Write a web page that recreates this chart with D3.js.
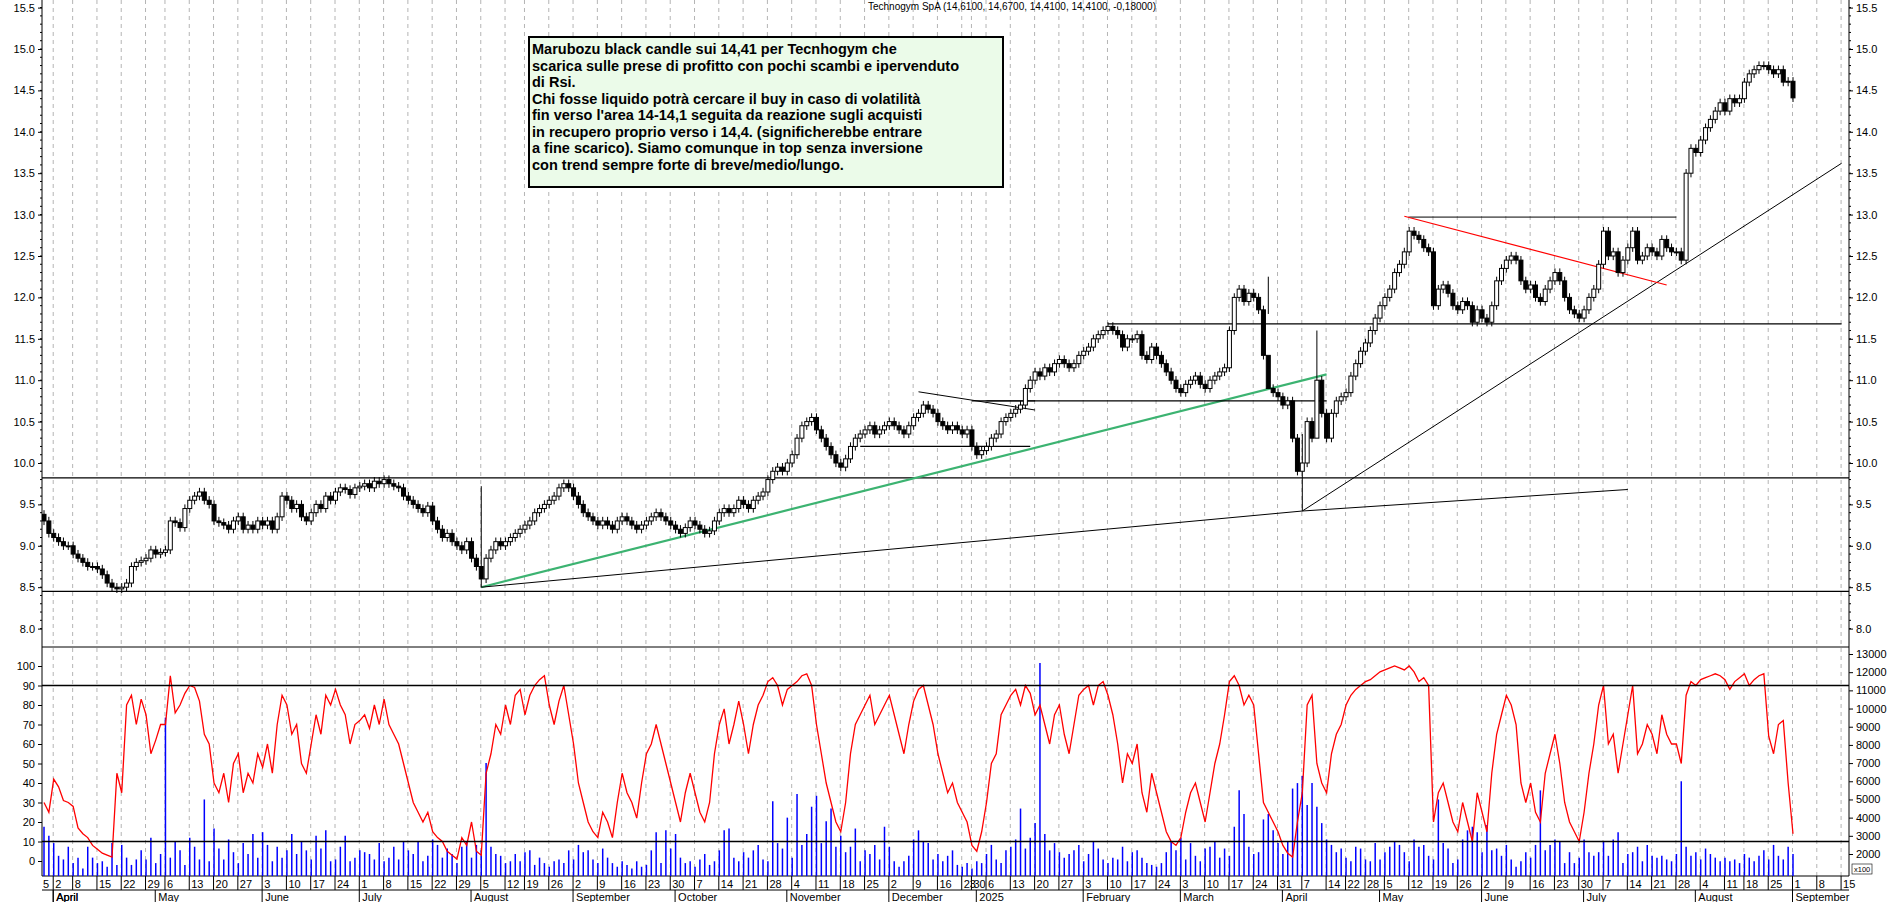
<!DOCTYPE html>
<html><head><meta charset="utf-8">
<script src="https://cdn.jsdelivr.net/npm/d3@7"></script>
<style>body{margin:0;background:#fff}svg{display:block;font-family:"Liberation Sans",Arial,sans-serif}</style>
</head><body><svg id="c" width="1890" height="902"></svg>
<script>
const startDate = "2024-03-27", endDate = "2025-09-01";
const holidays = ["2024-03-29","2024-04-01","2024-05-01","2024-08-15","2024-12-24","2024-12-25","2024-12-26","2024-12-31","2025-01-01","2025-04-18","2025-04-21","2025-05-01","2025-08-15"];
// closes per week
const closes = [
[9.3,9.15],[9.1,9.05,9.0,9.0],[8.9,8.85,8.8,8.75,8.75],[8.72,8.65,8.55,8.5,8.48],[8.5,8.55,8.75,8.8,8.82],[8.85,8.95,8.9,8.92],
[8.95,9.3,9.28,9.22,9.45],[9.55,9.6,9.65,9.55,9.5],[9.3,9.28,9.25,9.2,9.3],[9.35,9.2,9.25,9.2,9.3],[9.25,9.3,9.2,9.35,9.6],
[9.55,9.45,9.5,9.35,9.3],[9.4,9.5,9.45,9.6,9.55],[9.65,9.7,9.68,9.62,9.7],[9.72,9.75,9.7,9.78,9.75],[9.8,9.75,9.72,9.7,9.6],
[9.55,9.5,9.45,9.4,9.48],[9.3,9.2,9.1,9.15,9.05],[9.0,8.95,9.05,8.85,8.75],[8.6,8.85,8.95,9.05,9.0],[9.05,9.1,9.15,9.2],
[9.25,9.3,9.4,9.45,9.5],[9.55,9.6,9.7,9.75,9.7],[9.6,9.5,9.4,9.35,9.3],[9.25,9.3,9.25,9.2,9.3],[9.35,9.3,9.25,9.2,9.25],
[9.3,9.35,9.4,9.35,9.3],[9.25,9.2,9.15,9.22,9.3],[9.25,9.2,9.15,9.18,9.3],[9.4,9.45,9.4,9.45,9.55],[9.5,9.45,9.55,9.6,9.65],
[9.8,9.9,9.95,9.9,10.0],[10.1,10.3,10.45,10.5,10.55],[10.4,10.3,10.2,10.1,10.0],[9.95,10.05,10.2,10.3,10.35],[10.4,10.45,10.35,10.4,10.45],
[10.5,10.45,10.4,10.35,10.45],[10.55,10.6,10.7,10.65,10.6],[10.5,10.45,10.4,10.45,10.4],[10.35,10.4],[10.2,10.1,10.15],
[10.2,10.3,10.35,10.5,10.55],[10.6,10.65,10.7,10.9,11.0],[11.1,11.05,11.15,11.1,11.2],[11.25,11.2,11.15,11.2,11.3],
[11.35,11.4,11.5,11.55,11.6],[11.65,11.6,11.55,11.4,11.5],[11.5,11.55,11.3,11.25,11.4],[11.3,11.2,11.1,11.0,10.9],
[10.85,10.95,11.0,11.05,10.95],[10.9,11.0,11.05,11.1,11.15],[11.6,12.0,12.1,11.95,12.05],[12.0,11.85,11.3,10.9,10.85],
[10.8,10.7,10.75,10.3,9.9],[10.0,10.5,10.3,11.0,10.6],[10.3,10.6,10.75,10.8],[10.85,11.05,11.2,11.35],[11.45,11.6,11.75,11.9],
[12.0,12.1,12.3,12.4,12.55],[12.8,12.75,12.7,12.6,12.55],[11.9,12.1,12.15,12.05,11.9],[11.85,11.95,11.9,11.7,11.85],
[11.75,11.7,11.9,12.2,12.35],[12.45,12.5,12.45,12.2,12.1],[12.15,12.0,11.95,12.1,12.2],[12.3,12.2,12.0,11.85,11.8],
[11.75,11.85,12.0,12.1,12.4],[12.8,12.5,12.55,12.3,12.45],[12.6,12.8,12.45,12.5,12.6],[12.55,12.5,12.7,12.6,12.55],
[12.55,12.45,13.5,13.8,13.75],[13.9,14.05,14.15,14.25,14.35],[14.25,14.4,14.35,14.4],[14.6,14.7,14.75,14.8,14.8],
[14.75,14.7,14.75,14.6,14.61],[14.41]];
const rsi = [
[30,25],[42,38,31,30],[28,17,14,12,8],[6,4,3,2,45],[35,80,85,70,83],[75,55,62,70],
[70,95,76,80,86],[90,89,82,65,60],[40,35,45,30,50],[55,35,45,40,55],[48,60,45,70,85],
[80,65,70,50,45],[60,75,65,85,80],[88,80,75,60,70],[72,75,68,80,70],[83,70,65,60,50],
[40,30,25,20,25],[15,12,10,5,3],[1,12,8,20,5],[3,45,55,70,65],[80,70,85,88],
[75,85,90,93,95],[80,70,82,90,75],[60,40,30,20,15],[12,25,20,12,30],[45,35,30,22,40],
[55,60,70,60,50],[40,30,20,35,45],[35,25,20,30,55],[70,78,60,70,82],[70,55,70,80,85],
[92,94,90,80,88],[90,92,95,96,90],[70,55,40,30,20],[15,30,55,70,75],[80,85,70,75,80],
[85,75,65,55,70],[82,88,90,80,70],[55,45,35,40,30],[25,20],[8,5,15],
[30,50,55,75,80],[85,88,80,90,86],[75,80,70,60,75],[80,65,55,70,85],
[88,90,80,90,92],[85,75,60,40,55],[50,60,35,25,45],[35,25,15,10,8],
[12,25,35,40,30],[20,35,50,60,75],[92,95,90,80,85],[80,55,30,25,20],
[15,8,4,2,20],[35,80,85,50,40],[35,55,65,70],[80,85,88,90],[92,93,95,97],
[98,99,100,99,98],[100,97,92,94,90],[20,35,40,30,20],[15,30,20,10,35],
[25,15,45,65,75],[85,80,70,40,30],[40,25,20,45,55],[65,50,30,20,15],
[10,25,45,60,80],[90,60,65,45,60],[75,90,55,60,70],[65,55,75,65,60],
[60,50,85,92,90],[93,94,95,96,95],[93,88,92,94],[96,90,93,95,96],
[64,55,70,72,40],[14]];
const volume = [
[3500,3000],[2600,1900,1700,2400],[1500,1800,1200,2400,1800],[1500,1600,1300,2600,1400],[2500,1800,1400,1700,2200],[1700,2900,1500,2000],
[9500,1800,2700,2200,1400,2900],[2400,1700,5000,1600,3400],[2300,1700,2800,2100,1500],[2600,2000,3100,1800,3200],[2500,1600,2400,1800,2200],
[3100,2000,2700,2200,1700],[3000,2300,3300,1600,1700],[2400,3000,1600,1800,2200],[2100,2000,1700,2600,1600],[1800,2400,1700,2700,2200],
[2000,2700,1600,1900,2800],[2500,1800,2300,2000,1500],[2400,2700,1800,2500,2200],[7000,2400,2000,1900,1500],[1600,2000,1600,2100],
[2200,1400,1800,1500,1300],[1600,1700,1500,2200,1700],[2500,2100,2200,1700,1500],[2300,1800,1500,1300,1600],[1400,1200,1600,1300,1400],
[2200,3200,1500,3300,2300],[3100,1800,1500,1600,1300],[1700,2000,1400,1600,2200],[3300,3400,1800,1600,2100],[1800,2200,2500,1700,1600],
[4900,2600,2300,4000,1800],[5300,2500,3100,4600,5200],[2600,3800,4500,2400,3000],[2100,2400,3400,1600,2200],[2000,2500,1700,3500,2400],
[1600,1300,1600,1900,2800],[3300,2700,2600,1700,2000],[1600,1900,2200,1400,1300],[1500,1200],[1600,1500,2000],
[2500,1700,1500,2200,2400],[2800,4500,2300,2900,3700],[12500,3100,2200,2600,2100],[1800,2000,2200,2500,1600],
[2000,2700,2300,1700,1500],[1800,1700,2400,1600,2100],[2200,1800,1500,1400,1300],[1500,2100,2700,2200,2900],
[1700,2600,1900,1600,2300],[2400,2700,1800,2300,1900],[3500,5500,4200,2400,2000],[2100,3900,4200,3300,2600],
[2000,2700,5600,5900,6300],[4700,5900,4600,3700,2800],[2500,2100,2300,1800],[1600,2400,2300,1700],[1600,2600,1700,2100],
[2400,2700,2500,2100,1600],[2800,2400,2500,1900,1700],[5000,2600,2300,1500,1700],[2800,3300,3500,3200,2100],
[3600,2200,2300,1900,2500],[1700,1300,1600,2100,1800],[2500,5500,2200,2500,2800],[2700,1500,2100,1500,1800],
[2800,2100,1900,2100,2700],[1900,2800,3200,1500,2000],[2100,2400,1600,2500,1900],[1800,1900,1700,1600,2000],
[6000,2400,1900,2100,1700],[2300,2000,1800,1600,1800],[1600,1700,1500,2000],[1800,1600,1900,2200,1700],
[2500,1900,1700,2400,2000],[1600]];
const priceTicks = [8.0,8.5,9.0,9.5,10.0,10.5,11.0,11.5,12.0,12.5,13.0,13.5,14.0,14.5,15.0,15.5];
const rsiTicks = [0,10,20,30,40,50,60,70,80,90,100];
const volTicks = [2000,3000,4000,5000,6000,7000,8000,9000,10000,11000,12000,13000];
const wickOverrides = [["2024-08-05",8.5,9.72],["2025-04-07",9.42,10.35],["2025-04-10",10.55,11.6],["2025-03-27",11.8,12.25]];
const futureWeeks = ["2025-09-08","2025-09-15"];
const monthNames = ["January","February","March","April","May","June","July","August","September","October","November","December"];

const fmt = d3.timeFormat("%Y-%m-%d"), parse = d3.timeParse("%Y-%m-%d");
const days = d3.timeDay.range(parse(startDate), d3.timeDay.offset(parse(endDate),1))
  .filter(d => d.getDay()!==0 && d.getDay()!==6 && !holidays.includes(fmt(d)));
const flatC = closes.flat(), flatR = rsi.flat(), flatV = volume.flat();
const N = Math.min(days.length, flatC.length);
const data = [];
for (let i=0;i<N;i++){
  const c = flatC[i], o = i? flatC[i-1] : 9.38;
  let lo = Math.min(o,c)-0.05, hi = Math.max(o,c)+0.05;
  const ov = wickOverrides.find(w=>w[0]===fmt(days[i])); if(ov){lo=ov[1];hi=ov[2];}
  data.push({i, date:days[i], o, c, lo, hi, r: flatR[i], v: flatV[i]});
}
const idxOf = s => { const t=parse(s); let k=data.findIndex(d=>d.date>=t); return k<0? N-1 : k; };

const svg = d3.select("#c");
const L=42, R=1849;
const x = d3.scaleLinear().domain([0, N-1]).range([44, 1793]);
const y = d3.scaleLinear().domain([15,8]).range([49,628.6]);
const yr = d3.scaleLinear().domain([0,100]).range([861,666]);
const yv = d3.scaleLinear().domain([2000,13000]).range([854,654]);
const P1T=0, P1B=647, P2B=876;

svg.append("clipPath").attr("id","cp1").append("rect").attr("x",L).attr("y",P1T).attr("width",R-L).attr("height",P1B-P1T);
svg.append("clipPath").attr("id","cp2").append("rect").attr("x",L).attr("y",P1B).attr("width",R-L).attr("height",P2B-P1B);

const weekStarts = [];
data.forEach((d,k)=>{ if(k===0 || d3.timeMonday.floor(d.date)>d3.timeMonday.floor(data[k-1].date)) weekStarts.push({k, date:d.date}); });
const fut = futureWeeks.map((s,j)=>({k:N-1+5*(j+1), date:parse(s)}));
const allWeeks = weekStarts.concat(fut);
const g = svg.append("g");
allWeeks.forEach(w=>{ if(w.k===0) return;
  const xx = x(w.k)-0.5;
  g.append("line").attr("x1",xx).attr("x2",xx).attr("y1",0).attr("y2",P2B).attr("stroke","#b4b4b4").attr("stroke-dasharray","4,4");
  g.append("line").attr("x1",xx).attr("x2",xx).attr("y1",P2B).attr("y2",890).attr("stroke","#000");
  g.append("text").attr("x",xx+2).attr("y",888).attr("font-size",11).text(w.date.getDate());
});
data.forEach((d,k)=>{ if(k>0 && d.date.getMonth()!==data[k-1].date.getMonth()){
  const xx=x(k)-0.5;
  g.append("line").attr("x1",xx).attr("x2",xx).attr("y1",890).attr("y2",902).attr("stroke","#000");
  const lab = d.date.getMonth()===0 ? String(d.date.getFullYear()) : monthNames[d.date.getMonth()];
  g.append("text").attr("x",xx+3).attr("y",901).attr("font-size",11).text(lab);
}});
{ const xx=x(weekStarts[1].k)-0.5; g.append("line").attr("x1",xx).attr("x2",xx).attr("y1",890).attr("y2",902).attr("stroke","#000");
  g.append("text").attr("x",xx+3).attr("y",901).attr("font-size",11).text("April"); }
g.append("text").attr("x",L+1).attr("y",888).attr("font-size",11).text("5");

const hl=(yy,x1=L,x2=R,w=1.3)=>svg.append("line").attr("x1",x1).attr("x2",x2).attr("y1",yy).attr("y2",yy).attr("stroke","#000").attr("stroke-width",w);
hl(P1B,L,R,1); hl(P2B,L,R,1.2); hl(890,L,R,1.2);
svg.append("line").attr("x1",L).attr("x2",L).attr("y1",0).attr("y2",P2B).attr("stroke","#000");
svg.append("line").attr("x1",R).attr("x2",R).attr("y1",0).attr("y2",P2B).attr("stroke","#000");

svg.append("g").attr("transform",`translate(${L},0)`).call(d3.axisLeft(y).tickValues(priceTicks).tickFormat(d3.format(".1f")).tickSize(4));
svg.append("g").attr("transform",`translate(${R},0)`).call(d3.axisRight(y).tickValues(priceTicks).tickFormat(d3.format(".1f")).tickSize(4));
const minor = d3.range(80,156).map(v=>v/10);
[ [L,-2],[R,2] ].forEach(([xx,s])=>minor.forEach(v=>{ const yy=y(v); if(yy>P1T&&yy<P1B) svg.append("line").attr("x1",xx).attr("x2",xx+s).attr("y1",yy).attr("y2",yy).attr("stroke","#000");}));
svg.append("g").attr("transform",`translate(${L},0)`).call(d3.axisLeft(yr).tickValues(rsiTicks).tickSize(4));
svg.append("g").attr("transform",`translate(${R},0)`).call(d3.axisRight(yv).tickValues(volTicks).tickFormat(d3.format("d")).tickSize(4));
svg.selectAll(".domain").remove();
svg.selectAll(".tick text").attr("font-size",11).attr("font-family","Liberation Sans, Arial").attr("fill","#000");

const pg = svg.append("g").attr("clip-path","url(#cp1)");
[9.82,8.45].forEach(v=>pg.append("line").attr("x1",L).attr("x2",R).attr("y1",y(v)).attr("y2",y(v)).attr("stroke","#000").attr("stroke-width",1.3));
const lines = [
 ["2024-08-05",8.5,"2025-04-14",11.07,"#3cb371",2.2],
 ["2024-08-05",8.5,"2025-04-07",9.42,"#000",1],
 ["2025-04-07",9.42,"2025-07-14",9.68,"#000",1],
 ["2025-04-07",9.42,"2025-09-15",13.62,"#000",1],
 ["2025-02-10",11.68,"2025-09-15",11.68,"#000",1.2],
 ["2025-05-12",12.97,"2025-07-28",12.97,"#000",1],
 ["2025-05-09",12.98,"2025-07-24",12.15,"#ff0000",1.2],
 ["2024-12-30",10.75,"2025-04-14",10.75,"#000",1.2],
 ["2024-11-22",10.2,"2025-01-17",10.2,"#000",1.2],
 ["2024-12-10",10.86,"2025-01-20",10.64,"#000",1],
 ["2025-01-06",10.75,"2025-01-20",10.75,"#000",1]
];
const xd = s => { const t=parse(s); if(t>data[N-1].date){ return x(N-1)+ (d3.timeDay.count(data[N-1].date,t))*5/7*(x(1)-x(0)); } return x(idxOf(s)); };
lines.forEach(l=>pg.append("line").attr("x1",xd(l[0])).attr("y1",y(l[1])).attr("x2",xd(l[2])).attr("y2",y(l[3])).attr("stroke",l[4]).attr("stroke-width",l[5]));

pg.selectAll(".wick").data(data).join("line").attr("x1",d=>x(d.i)).attr("x2",d=>x(d.i)).attr("y1",d=>y(d.hi)).attr("y2",d=>y(d.lo)).attr("stroke","#000");
pg.selectAll(".body").data(data).join("rect")
  .attr("x",d=>x(d.i)-2).attr("width",4)
  .attr("y",d=>y(Math.max(d.o,d.c))).attr("height",d=>Math.max(1,Math.abs(y(d.o)-y(d.c))))
  .attr("fill",d=>d.c<d.o?"#000":"#fff").attr("stroke","#000").attr("stroke-width",1);

const lg = svg.append("g").attr("clip-path","url(#cp2)");
lg.selectAll(".vb").data(data).join("line").attr("x1",d=>x(d.i)).attr("x2",d=>x(d.i)).attr("y1",P2B).attr("y2",d=>yv(d.v)).attr("stroke","#0000ff").attr("stroke-width",1.5);
hl(yr(90),L,R,1.3); hl(yr(10),L,R,1.3);
lg.append("path").datum(data).attr("d",d3.line().x(d=>x(d.i)).y(d=>yr(d.r))).attr("fill","none").attr("stroke","#ff0000").attr("stroke-width",1.3);

svg.append("rect").attr("x",1852).attr("y",864).attr("width",20).attr("height",10).attr("fill","#fff").attr("stroke","#000").attr("stroke-width",0.6);
svg.append("text").attr("x",1854).attr("y",872).attr("font-size",7.5).text("x100");

svg.append("text").attr("x",1012).attr("y",10).attr("text-anchor","middle").attr("font-size",10).text("Technogym SpA (14,6100, 14,6700, 14,4100, 14,4100, -0,18000)");

const note = ["Marubozu black candle sui 14,41 per Tecnhogym che","scarica sulle prese di profitto con pochi scambi e ipervenduto","di  Rsi.","Chi fosse liquido potrà cercare il buy  in caso di volatilità","fin verso l'area 14-14,1 seguita da reazione sugli acquisti","in recupero proprio verso i 14,4. (significherebbe entrare","a fine scarico). Siamo comunque in top senza inversione","con trend sempre forte di breve/medio/lungo."];
svg.append("rect").attr("x",529).attr("y",37).attr("width",474).attr("height",150).attr("fill","#ebfbe9").attr("stroke","#000").attr("stroke-width",2);
note.forEach((t,j)=>svg.append("text").attr("x",532).attr("y",54+j*16.5).attr("font-size",14.5).attr("font-weight","bold").text(t));
</script></body></html>
